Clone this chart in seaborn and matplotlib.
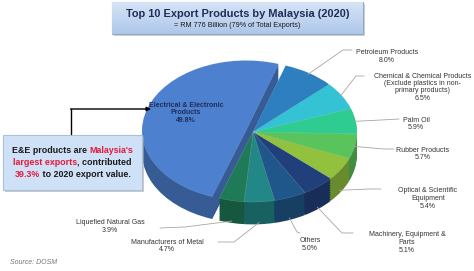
import numpy as np
import matplotlib
matplotlib.use("Agg")
import matplotlib.pyplot as plt
import matplotlib.colors as mcolors
import seaborn as sns
from matplotlib.patches import FancyBboxPatch
from matplotlib.offsetbox import TextArea, HPacker, VPacker, AnnotationBbox

# ---------------- data ----------------
products = [
    "Electrical & Electronic\nProducts",
    "Petroleum Products",
    "Chemical & Chemical Products\n(Exclude plastics in non-\nprimary products)",
    "Palm Oil",
    "Rubber Products",
    "Optical & Scientific\nEquipment",
    "Machinery, Equipment &\nParts",
    "Others",
    "Manufacturers of Metal",
    "Liquefied Natural Gas",
]
shares = [49.8, 8.0, 6.5, 5.9, 5.7, 5.4, 5.1, 5.0, 4.7, 3.9]
slice_colors = ["#4d80cf", "#2e7fbf", "#33c3d4", "#2fcc92", "#5ac45c",
                "#92c13e", "#213f7a", "#1f578a", "#218787", "#1f7a58"]
title = "Top 10 Export Products by Malaysia (2020)"
subtitle = "= RM 776 Billion (79% of Total Exports)"
source = "Source: DOSM"

# ---------------- style ----------------
sns.set_theme(style="white")
plt.rcParams["font.family"] = ["Liberation Sans", "DejaVu Sans"]

W, H = 474, 271
fig = plt.figure(figsize=(W / 100, H / 100), dpi=100)
fig.patch.set_facecolor("white")

# pie axes (stretched to make an elliptical, tilted-looking pie)
cx, cy, rx, ry = 253, 132, 104, 70
lim = 1.1
ax_w, ax_h = 2 * lim * rx, 2 * lim * ry
pie_ax = fig.add_axes([(cx - lim * rx) / W, (H - (cy + lim * ry)) / H, ax_w / W, ax_h / H])

depth = 0.32
explode = [0.07] + [0] * (len(shares) - 1)
dark = [tuple(np.array(mcolors.to_rgb(c)) * 0.72) for c in slice_colors]
for d in np.linspace(depth, 0.0, 14)[:-1]:
    pie_ax.pie(shares, colors=dark, startangle=251, counterclock=False,
               explode=explode, center=(0, -d), wedgeprops=dict(linewidth=0))
wedges, _ = pie_ax.pie(shares, colors=slice_colors, startangle=251, counterclock=False,
                       explode=explode, center=(0, 0),
                       wedgeprops=dict(linewidth=0.3, edgecolor="#ffffff40"))
pie_ax.set_aspect("auto")
pie_ax.set_xlim(-lim, lim)
pie_ax.set_ylim(-lim, lim)
pie_ax.axis("off")

# overlay axes in pixel coordinates
ov = fig.add_axes([0, 0, 1, 1], zorder=5)
ov.set_xlim(0, W)
ov.set_ylim(H, 0)
ov.axis("off")
ov.patch.set_alpha(0)

# ---------------- title box ----------------
shadow = FancyBboxPatch((114, 4), 251, 32, boxstyle="square,pad=0", fc="#b0b0b0", ec="none", alpha=0.6)
ov.add_patch(shadow)
tbox = FancyBboxPatch((112, 2), 251, 32, boxstyle="square,pad=0", fc="#c3d7f0", ec="#8ea9cc", lw=0.8)
ov.add_patch(tbox)
grad = np.linspace(0, 1, 50).reshape(-1, 1)
cmap = mcolors.LinearSegmentedColormap.from_list("g", ["#d6e4f6", "#adc7ea"])
im = ov.imshow(grad, cmap=cmap, extent=[112, 363, 34, 2], aspect="auto", zorder=2)
im.set_clip_path(tbox)
ov.set_xlim(0, W)
ov.set_ylim(H, 0)
ov.text(237.5, 14, title, ha="center", va="center", fontsize=7.9, fontweight="bold", color="#1f2d5a", zorder=3)
ov.text(237.5, 25.5, subtitle, ha="center", va="center", fontsize=5.2, color="#1a1a1a", zorder=3)

# ---------------- labels with leader lines ----------------
# text centre (x, y of first line) and leader line start / elbow in pixels
label_pos = [None, (387, 53), (423, 76), (416, 120), (423, 150), (428, 191),
             (407, 235), (310, 241), (167, 242), (110, 223)]
leader_pts = [None,
              [(352, 50), (343, 50)],
              [(364, 76), (356, 76)],
              [(399, 119), (381, 120)],
              [(394, 149), (384, 149)],
              [(381, 189), (370, 189)],
              [(353, 233), (342, 233)],
              [(300, 233), (297, 232)],
              [(218, 242), (234, 242)],
              [(160, 228), (185, 227)]]

to_ov = ov.transData.inverted()
for i, w in enumerate(wedges):
    if i == 0:
        continue
    mid = np.deg2rad((w.theta1 + w.theta2) / 2)
    px, py = np.cos(mid), np.sin(mid)
    if py < -0.3:
        py -= depth
    ax_pt = to_ov.transform(pie_ax.transData.transform((px * 0.98, py * 0.98)))
    pts = leader_pts[i] + [tuple(ax_pt)]
    xs, ys = zip(*pts)
    ov.plot(xs, ys, color="#a6a6a6", lw=0.6, zorder=3)
    lx, ly = label_pos[i]
    ov.text(lx, ly - 3.5, f"{products[i]}\n{shares[i]:.1f}%", ha="center", va="top",
            fontsize=5, color="#333333", linespacing=1.1, zorder=4)

# E&E label inside its slice
ov.text(186, 113, f"{products[0]}\n{shares[0]:.1f}%", ha="center", va="center",
        fontsize=5, fontweight="bold", color="#1f2d5a", linespacing=1.1, zorder=4)

# ---------------- callout box ----------------
ov.add_patch(FancyBboxPatch((5, 137), 139, 55, boxstyle="square,pad=0", fc="#a8a8a8", ec="none", alpha=0.6))
ov.add_patch(FancyBboxPatch((3, 135), 139, 55, boxstyle="square,pad=0", fc="#cfe1f6", ec="#a9c0dc", lw=0.8))
red, dk = "#e8173a", "#1a1a1a"
tp = dict(fontsize=6.4, fontweight="bold")
lines = [
    [("E&E products are ", dk), ("Malaysia's", red)],
    [("largest exports", red), (", contributed", dk)],
    [("39.3%", red), (" to 2020 export value.", dk)],
]
rows = [HPacker(children=[TextArea(t, textprops=dict(color=c, **tp)) for t, c in ln],
                align="baseline", pad=0, sep=0) for ln in lines]
vp = VPacker(children=rows, align="center", pad=0, sep=2)
ab = AnnotationBbox(vp, (72.5, 162.5), xycoords="data", frameon=False, box_alignment=(0.5, 0.5), zorder=6)
ov.add_artist(ab)

# arrow from callout to E&E slice
ov.plot([71, 71], [134, 109], color="black", lw=1.0, zorder=4)
ov.annotate("", xy=(151, 109), xytext=(70.5, 109),
            arrowprops=dict(arrowstyle="-|>", color="black", lw=1.0, mutation_scale=6, shrinkA=0, shrinkB=0),
            zorder=4)

# source
ov.text(10, 262, source, ha="left", va="center", fontsize=5, style="italic", color="#777777")

fig.savefig("out.png", dpi=100)
